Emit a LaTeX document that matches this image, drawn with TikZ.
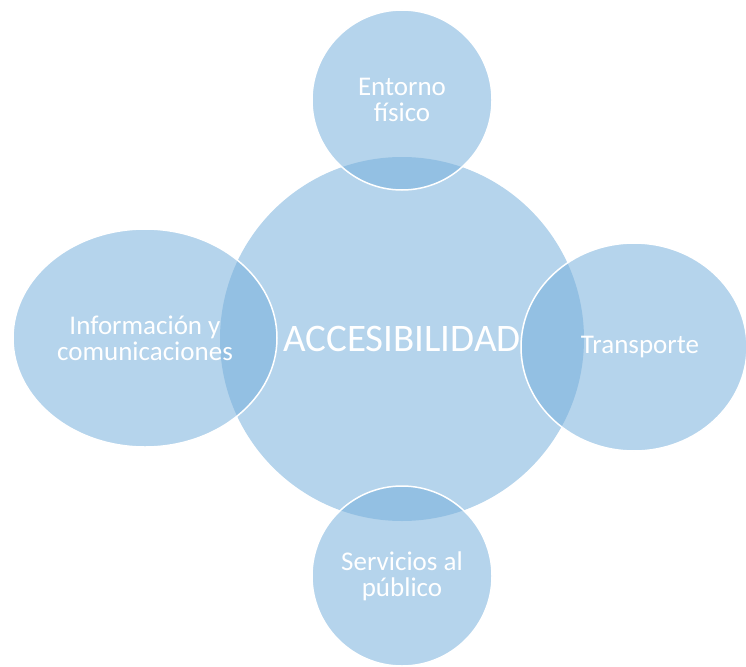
\documentclass[tikz,border=0pt]{standalone}
\usepackage{fontspec}
\setmainfont{Carlito}
\usetikzlibrary{shapes.geometric}
\definecolor{ringblue}{RGB}{118,175,219}

\begin{document}
\begin{tikzpicture}[x=1pt,y=-1pt,
 hub/.style={circle, fill=ringblue, fill opacity=.54, text opacity=1, text=white, inner sep=0, minimum size=364pt, font=\fontsize{39}{41}\selectfont},
 spoke/.style={fill=ringblue, fill opacity=.54, text opacity=1, draw=white, line width=1.5pt, text=white, inner sep=0, align=center, font=\fontsize{27}{26}\selectfont}]
\useasboundingbox (0,0) rectangle (746,666);
\node[hub] (acc) at (402,339) {ACCESIBILIDAD};
\node[spoke, circle, minimum size=180pt] (env) at (402,100) {Entorno\\físico};
\node[spoke, ellipse, minimum width=226pt, minimum height=208pt] (trn) at (634,347) {\hspace*{12pt}Transporte};
\node[spoke, circle, minimum size=180pt] (srv) at (402,576) {Servicios al\\público};
\node[spoke, ellipse, minimum width=264pt, minimum height=218pt] (inf) at (145,338) {Información y\\comunicaciones};
\end{tikzpicture}
\end{document}
